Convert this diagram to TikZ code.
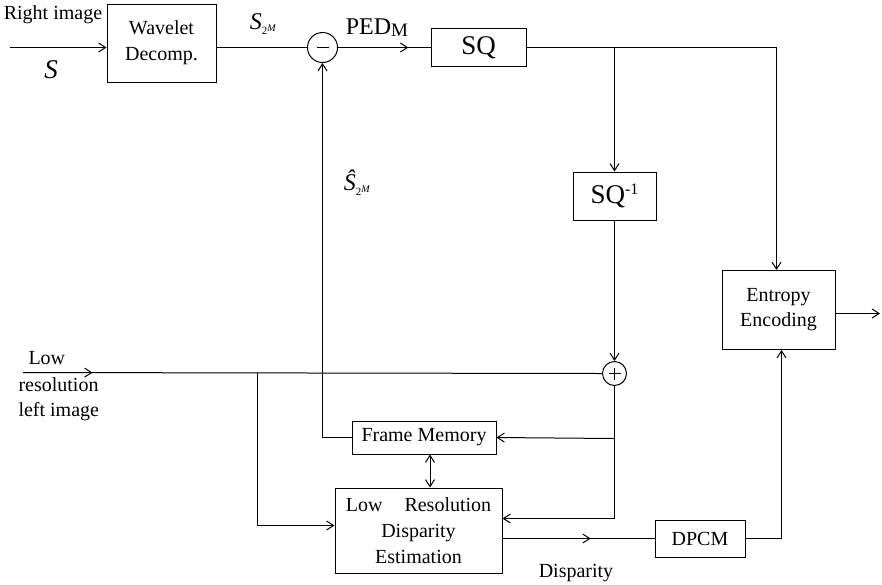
\documentclass[tikz,border=0pt]{standalone}
\usepackage{fontspec}
\setmainfont{Liberation Serif}
\usetikzlibrary{arrows.meta,decorations.markings,calc}
\newcommand{\fs}[1]{\fontsize{#1}{#1}\selectfont}
\begin{document}
\begin{tikzpicture}[x=1pt,y=-1pt,
  line width=1pt,
  >={Straight Barb[length=7pt,width=9pt,line width=1pt]},
  blockbox/.style={draw,rectangle,inner sep=0pt,align=center,font=\fs{20}},
  sumnode/.style={draw,circle,inner sep=0pt},
  lbl/.style={inner sep=0pt,font=\fs{20}},
  midarrow/.style={postaction={decorate},decoration={markings,mark=at position #1 with {\arrow{>}}}}
]
\useasboundingbox (0,0) rectangle (882,584);
% blocks
\node[blockbox,minimum width=109pt,minimum height=78pt] (wav) at (161.5,43) {Wavelet\\[6pt]Decomp.};
\node[blockbox,minimum width=95pt,minimum height=38pt,font=\fs{27}] (sq) at (478.5,47.5) {SQ};
\node[blockbox,minimum width=83pt,minimum height=48pt,font=\fs{27}] (sqi) at (614.5,196) {SQ\raisebox{9pt}{\fs{16}-1}};
\node[blockbox,minimum width=113pt,minimum height=79pt] (ent) at (778.5,310) {Entropy\\[5pt]Encoding};
\node[blockbox,minimum width=144pt,minimum height=33pt] (fm) at (424,437.5) {Frame Memory};
\node[blockbox,minimum width=167pt,minimum height=85pt] (lr) at (418.5,530.5) {Low\hspace{1.1em}Resolution\\[6pt]Disparity\\[6pt]Estimation};
\node[blockbox,minimum width=90pt,minimum height=37pt] (dpcm) at (700,538.5) {DPCM};
\node[sumnode,minimum size=30pt] (minus) at (322.5,47.5) {};
\draw ($(minus)+(-6,0)$) -- ($(minus)+(6,0)$);
\node[sumnode,minimum size=24pt] (plus) at (614.5,373.5) {};
\draw ($(plus)+(-6,0)$) -- ($(plus)+(6,0)$) ($(plus)+(0,-6)$) -- ($(plus)+(0,6)$);
% coordinates
\coordinate (in1) at (10,47.5);
\coordinate (in2) at (23,372.5);
\coordinate (out) at (880,313.5);
\coordinate (b1) at (614.5,47.5);
\coordinate (b2) at (257.5,372.5);
\coordinate (b3) at (614.5,438.5);
% labels
\node[lbl] (ri) at (53,15) {Right image};
\node[lbl,font=\fs{27}\itshape] (s) at (51,70) {S};
\node[lbl] (s2m) at (263,24) {\fs{24}\textit{S}\raisebox{-5pt}{\fs{11}2\raisebox{3pt}{\fs{10}\textit{M}}}};
\node[lbl] (ped) at (377,28) {\fs{24}PED\raisebox{-2pt}{\fs{19}M}};
\node[lbl] (shat) at (357,183) {\fs{24}\textit{Ŝ}\raisebox{-5pt}{\fs{11}2\raisebox{3pt}{\fs{10}\textit{M}}}};
\node[lbl,anchor=west] (low) at (28,358) {Low};
\node[lbl,anchor=west] (res) at (18,385) {resolution};
\node[lbl,anchor=west] (left) at (18,412) {left image};
\node[lbl] (disp) at (576,573) {Disparity};
% connectors
\draw[->] (in1) -- (in1 -| wav.west);
\draw (wav.east |- minus) -- (minus.west);
\draw[midarrow=0.76] (minus.east) -- (sq.west);
\draw[->] (sq.east) -| ([xshift=-2pt]ent.north);
\draw[->] (b1) -- (sqi.north);
\draw[->] (sqi.south) -- (plus.north);
\draw[midarrow=0.12] (in2) -- (plus.west);
\draw[->] (b2) |- ([yshift=5pt]lr.west);
\draw[->] (plus.south) |- ([yshift=12pt]lr.east);
\draw[->] (b3) -- (fm.east);
\draw[->] (fm.west) -| (minus.south);
\draw[<->] ([xshift=6pt]fm.south) -- ([xshift=6pt]fm.south |- lr.north);
\draw[midarrow=0.58] (lr.east |- dpcm) -- (dpcm.west);
\draw[->] (dpcm.east) -| ([xshift=3pt]ent.south);
\draw[->] (ent.east |- out) -- (out);
\end{tikzpicture}
\end{document}
